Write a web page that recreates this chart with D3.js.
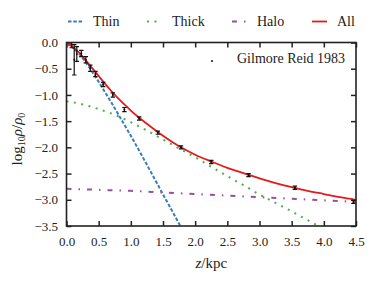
<!DOCTYPE html>
<html lang="en">
<head>
<meta charset="utf-8">
<title>Vertical density profile</title>
<script src="https://unpkg.com/d3@7/dist/d3.min.js"></script>
</head>
<body style="margin:0; background:#fff">
<script>
// model curves (z in kpc, log10 rho/rho0)
var thinZ   = [0, 0.1, 0.2, 0.3, 0.4, 0.5, 0.6, 0.7, 0.8, 0.9, 1.0, 1.2, 1.4, 1.6, 1.77];
var thinY   = [-0.03, -0.10, -0.22, -0.38, -0.56, -0.75, -0.95, -1.15, -1.36, -1.57, -1.78, -2.22, -2.67, -3.12, -3.5];
var thickZ  = [0, 0.25, 0.5, 0.75, 1.0, 1.25, 1.5, 1.75, 2.0, 2.25, 2.5, 2.75, 3.0, 3.25, 3.5, 3.75, 3.92];
var thickY  = [-1.12, -1.18, -1.27, -1.38, -1.52, -1.68, -1.85, -2.02, -2.19, -2.37, -2.55, -2.72, -2.90, -3.06, -3.22, -3.39, -3.5];
var haloZ   = [0, 0.5, 1.0, 1.5, 2.0, 2.5, 3.0, 3.5, 4.0, 4.5];
var haloY   = [-2.79, -2.81, -2.83, -2.86, -2.89, -2.92, -2.95, -2.98, -3.01, -3.04];
var allZ    = [0, 0.1, 0.2, 0.3, 0.4, 0.5, 0.6, 0.7, 0.8, 0.9, 1.0, 1.25, 1.5, 1.75, 2.0, 2.25, 2.5, 2.75, 3.0, 3.25, 3.5, 3.75, 4.0, 4.25, 4.5];
var allY    = [0, -0.09, -0.2, -0.34, -0.49, -0.64, -0.79, -0.93, -1.06, -1.18, -1.3, -1.55, -1.78, -1.98, -2.14, -2.27, -2.39, -2.49, -2.59, -2.68, -2.76, -2.83, -2.89, -2.95, -3.0];

// Gilmore & Reid 1983 points
var obsZ   = [0.08, 0.12, 0.16, 0.23, 0.30, 0.37, 0.45, 0.57, 0.72, 0.90, 1.13, 1.42, 1.78, 2.25, 2.83, 3.55, 4.46];
var obsY   = [-0.05, -0.33, -0.22, -0.21, -0.33, -0.49, -0.60, -0.80, -1.0, -1.28, -1.45, -1.72, -2.0, -2.28, -2.53, -2.77, -3.04];
var obsErr = [0.05, 0.29, 0.14, 0.06, 0.06, 0.06, 0.05, 0.04, 0.04, 0.04, 0.03, 0.03, 0.03, 0.03, 0.03, 0.03, 0.03];

var xTicks = [0, 0.5, 1.0, 1.5, 2.0, 2.5, 3.0, 3.5, 4.0, 4.5];
var yTicks = [0, -0.5, -1.0, -1.5, -2.0, -2.5, -3.0, -3.5];

var series = [
  { name: "Thin",  z: thinZ,  y: thinY,  color: "#377eb8", dash: "3.5,1.8" },
  { name: "Thick", z: thickZ, y: thickY, color: "#4daf4a", dash: "2,5.5" },
  { name: "Halo",  z: haloZ,  y: haloY,  color: "#984ea3", dash: "5,7,1.5,7" },
  { name: "All",   z: allZ,   y: allY,   color: "#e41a1c", dash: null }
];

var W = 375, H = 283;
var pLeft = 66.5, pRight = 356, pTop = 42.5, pBottom = 226;
var serif = "'Liberation Serif', 'Times New Roman'";

var x = d3.scaleLinear().domain([0, 4.5]).range([pLeft, pRight]);
var y = d3.scaleLinear().domain([-3.5, 0]).range([pBottom, pTop]);

var fmt = function(d) { return d3.format(".1f")(d).replace("-", "\u2212"); };

var svg = d3.select("body").append("svg")
  .attr("width", W).attr("height", H);

svg.append("defs").append("clipPath").attr("id", "plot")
  .append("rect").attr("x", pLeft).attr("y", pTop)
  .attr("width", pRight - pLeft).attr("height", pBottom - pTop);

// axes, ticks inward on all four sides
var tickLen = 5;
var gx = svg.append("g").attr("transform", "translate(0," + pBottom + ")")
  .call(d3.axisBottom(x).tickValues(xTicks).tickFormat(fmt)
    .tickSizeInner(-tickLen).tickSizeOuter(0).tickPadding(11));
var gxt = svg.append("g").attr("transform", "translate(0," + pTop + ")")
  .call(d3.axisTop(x).tickValues(xTicks).tickFormat("")
    .tickSizeInner(-tickLen).tickSizeOuter(0));
var gy = svg.append("g").attr("transform", "translate(" + pLeft + ",0)")
  .call(d3.axisLeft(y).tickValues(yTicks).tickFormat(fmt)
    .tickSizeInner(-tickLen).tickSizeOuter(0).tickPadding(8.5));
var gyr = svg.append("g").attr("transform", "translate(" + pRight + ",0)")
  .call(d3.axisRight(y).tickValues(yTicks).tickFormat("")
    .tickSizeInner(-tickLen).tickSizeOuter(0));

[gx, gxt, gy, gyr].forEach(function(g) {
  g.attr("font-family", null);
  g.select(".domain").remove();
  g.selectAll(".tick line").attr("stroke", "#222").attr("stroke-width", 1.5);
  g.selectAll("text").attr("font-size", 13).attr("fill", "#222");
});

// curves
var line = d3.line()
  .x(function(d) { return x(d[0]); })
  .y(function(d) { return y(d[1]); })
  .curve(d3.curveMonotoneX);

var plot = svg.append("g").attr("clip-path", "url(#plot)");

series.forEach(function(s) {
  plot.append("path")
    .datum(d3.zip(s.z, s.y))
    .attr("d", line)
    .attr("fill", "none")
    .attr("stroke", s.color)
    .attr("stroke-width", s.name == "All" ? 1.8 : 2)
    .attr("stroke-dasharray", s.dash);
});

// data with error bars
var obs = d3.zip(obsZ, obsY, obsErr);
var cap = 2.2;
var eb = plot.selectAll("g.obs").data(obs).enter().append("g").attr("class", "obs")
  .attr("stroke", "#111").attr("stroke-width", 1.2);
eb.append("line")
  .attr("x1", function(d) { return x(d[0]); }).attr("x2", function(d) { return x(d[0]); })
  .attr("y1", function(d) { return y(d[1] + d[2]); }).attr("y2", function(d) { return y(d[1] - d[2]); });
eb.append("line")
  .attr("x1", function(d) { return x(d[0]) - cap; }).attr("x2", function(d) { return x(d[0]) + cap; })
  .attr("y1", function(d) { return y(d[1] + d[2]); }).attr("y2", function(d) { return y(d[1] + d[2]); });
eb.append("line")
  .attr("x1", function(d) { return x(d[0]) - cap; }).attr("x2", function(d) { return x(d[0]) + cap; })
  .attr("y1", function(d) { return y(d[1] - d[2]); }).attr("y2", function(d) { return y(d[1] - d[2]); });
plot.selectAll("circle.obs").data(obs).enter().append("circle")
  .attr("cx", function(d) { return x(d[0]); })
  .attr("cy", function(d) { return y(d[1]); })
  .attr("r", 1).attr("fill", "#111");

// frame
svg.append("rect").attr("x", pLeft).attr("y", pTop)
  .attr("width", pRight - pLeft).attr("height", pBottom - pTop)
  .attr("fill", "none").attr("stroke", "#222").attr("stroke-width", 1.6);

// top legend
var legX = [68, 147, 232, 312];
series.forEach(function(s, i) {
  svg.append("line")
    .attr("x1", legX[i]).attr("x2", legX[i] + 15)
    .attr("y1", 21.5).attr("y2", 21.5)
    .attr("stroke", s.color).attr("stroke-width", s.name == "All" ? 1.8 : 2)
    .attr("stroke-dasharray", s.dash);
  svg.append("text").attr("x", legX[i] + 25).attr("y", 26)
    .attr("font-size", 14).text(s.name);
});

// inner legend
svg.append("circle").attr("cx", 212).attr("cy", 61).attr("r", 1).attr("fill", "#111");
svg.append("text").attr("x", 237).attr("y", 63).attr("font-size", 14).text("Gilmore Reid 1983");

// axis labels
var xl = svg.append("text").attr("x", (pLeft + pRight) / 2).attr("y", 268)
  .attr("text-anchor", "middle").attr("font-size", 15);
xl.append("tspan").attr("font-style", "italic").text("z");
xl.append("tspan").text("/kpc");

var yl = svg.append("text")
  .attr("transform", "translate(22,139) rotate(-90)")
  .attr("text-anchor", "middle").attr("font-size", 15);
yl.append("tspan").text("log");
yl.append("tspan").attr("font-size", 10).attr("dy", 3).text("10");
yl.append("tspan").attr("font-style", "italic").attr("dy", -3).text("\u03c1");
yl.append("tspan").text("/");
yl.append("tspan").attr("font-style", "italic").text("\u03c1");
yl.append("tspan").attr("font-size", 10).attr("dy", 3).text("0");

// every text in the serif face
svg.selectAll("text, tspan").style("font-family", serif).attr("fill", "#222");
</script>
</body>
</html>
